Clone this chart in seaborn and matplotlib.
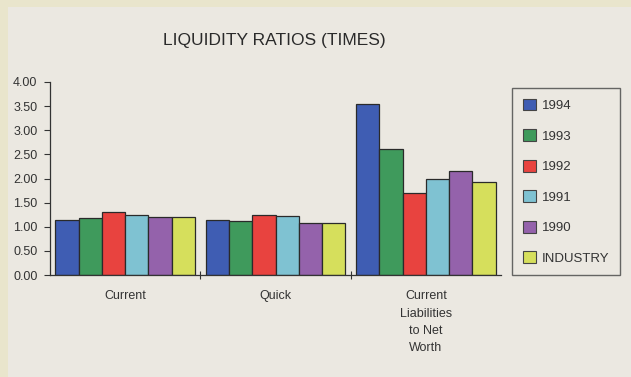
import matplotlib
matplotlib.use("Agg")
import matplotlib.pyplot as plt
import seaborn as sns
import pandas as pd
from matplotlib.patches import Patch, Rectangle

categories = ["Current", "Quick", "Current\nLiabilities\nto Net\nWorth"]
years = ["1994", "1993", "1992", "1991", "1990", "INDUSTRY"]
ratio_1994 = [1.15, 1.14, 3.54]
ratio_1993 = [1.19, 1.11, 2.62]
ratio_1992 = [1.31, 1.24, 1.69]
ratio_1991 = [1.25, 1.23, 2.00]
ratio_1990 = [1.21, 1.08, 2.16]
ratio_industry = [1.20, 1.08, 1.92]
y_ticks = [0.0, 0.5, 1.0, 1.5, 2.0, 2.5, 3.0, 3.5, 4.0]

series = [ratio_1994, ratio_1993, ratio_1992, ratio_1991, ratio_1990, ratio_industry]
rows = []
for yr, vals in zip(years, series):
    for cat, v in zip(categories, vals):
        rows.append({"Ratio": cat, "Year": yr, "Value": v})
df = pd.DataFrame(rows)

colors = ["#3f5db3", "#3f9a5c", "#e8433f", "#7fc2d2", "#9462ab", "#d6df5c"]
bg = "#ebe8e1"
text_c = "#333333"

sns.set_theme(style="white")
plt.rcParams["font.family"] = ["Liberation Sans", "DejaVu Sans"]

fig = plt.figure(figsize=(6.31, 3.77), dpi=100, facecolor=bg)
# pale paper edge along the top and left
fig.patches.append(Rectangle((0, 1 - 7 / 377), 1, 7 / 377, transform=fig.transFigure,
                             facecolor="#e9e5cc", edgecolor="none", zorder=0))
fig.patches.append(Rectangle((0, 0), 8 / 631, 1, transform=fig.transFigure,
                             facecolor="#e9e5cc", edgecolor="none", zorder=0))

ax = fig.add_axes([50 / 631, 1 - 275 / 377, 451 / 631, (275 - 82) / 377])
ax.set_facecolor(bg)

sns.barplot(data=df, x="Ratio", y="Value", hue="Year", hue_order=years,
            order=categories, palette=colors, width=0.93, gap=0,
            edgecolor="#2a2a2a", linewidth=0.9, saturation=1,
            legend=False, ax=ax)

ax.set_xlim(-0.5, 2.5)
ax.set_ylim(0, 4.0)
ax.set_yticks(y_ticks)
ax.set_yticklabels([f"{t:.2f}" for t in y_ticks], fontsize=9, color=text_c)
ax.set_xticks([0.5, 1.5])
ax.set_xticklabels([])
ax.tick_params(axis="x", direction="inout", length=6, width=0.8, color=text_c, bottom=True)
ax.tick_params(axis="y", direction="out", length=4, width=0.8, color=text_c, left=True, pad=5)
for i, cat in enumerate(categories):
    ax.text(i, -0.32, cat, ha="center", va="top", fontsize=9, color=text_c,
            linespacing=1.58, transform=ax.transData)
ax.set_xlabel("")
ax.set_ylabel("")
for s in ["top", "right"]:
    ax.spines[s].set_visible(False)
for s in ["left", "bottom"]:
    ax.spines[s].set_color(text_c)
    ax.spines[s].set_linewidth(0.9)

fig.text(274 / 631, 1 - 41 / 377, "LIQUIDITY RATIOS (TIMES)", ha="center", va="center",
         fontsize=12.5, color="#2a2a2a")

handles = [Patch(facecolor=c, edgecolor="#444444", linewidth=0.8) for c in colors]
leg = fig.legend(handles, years, loc="upper left",
                 bbox_to_anchor=(512 / 631, 1 - 88 / 377), fontsize=9.5,
                 frameon=True, fancybox=False, edgecolor="#444444",
                 facecolor=bg, handlelength=1.0, handleheight=1.0,
                 labelspacing=1.3, borderpad=0.8, handletextpad=0.45,
                 borderaxespad=0)
leg.get_frame().set_linewidth(1.0)
for t in leg.get_texts():
    t.set_color(text_c)

fig.savefig("out.png", dpi=100, facecolor=bg)
